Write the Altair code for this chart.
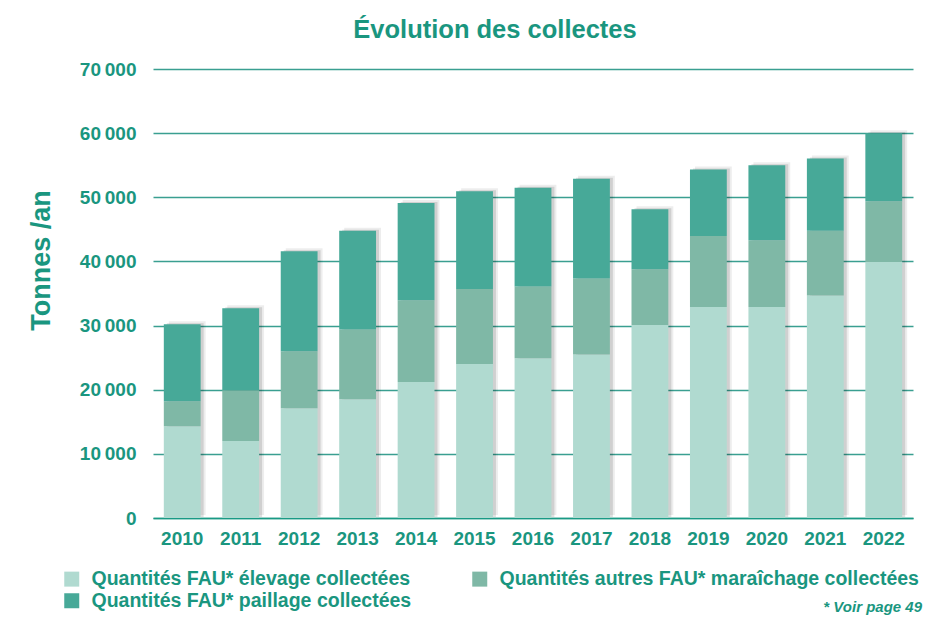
import altair as alt
import pandas as pd

years = ["2010", "2011", "2012", "2013", "2014", "2015", "2016",
         "2017", "2018", "2019", "2020", "2021", "2022"]
elevage = [14300, 12000, 17100, 18500, 21200, 24000, 24900,
           25500, 30100, 32900, 32900, 34700, 39900]
maraichage = [3900, 7900, 8900, 10900, 12750, 11700, 11200,
              11850, 8700, 11050, 10400, 10100, 9500]
paillage = [12000, 12800, 15600, 15400, 15150, 15250, 15400,
            15550, 9350, 10400, 11700, 11250, 10600]

series_names = [
    "Quantités FAU* élevage collectées",
    "Quantités autres FAU* maraîchage collectées",
    "Quantités FAU* paillage collectées",
]
series_colors = ["#b0dad0", "#7fb8a6", "#47a998"]
y_ticks = [0, 10000, 20000, 30000, 40000, 50000, 60000, 70000]
title_text = "Évolution des collectes"
note_text = "* Voir page 49"

TEAL = "#1a967f"
FONT = "Liberation Sans"

rows = []
for i, y in enumerate(years):
    for k, vals in enumerate([elevage, maraichage, paillage]):
        rows.append({"annee": y, "serie": series_names[k], "ordre": k, "valeur": vals[i]})
df = pd.DataFrame(rows)
totals = pd.DataFrame({"annee": years,
                       "total": [a + b + c for a, b, c in zip(elevage, maraichage, paillage)]})

xscale = alt.Scale(domain=years, paddingInner=0.37, paddingOuter=0.185)
yscale = alt.Scale(domain=[0, 70000])

x_axis = alt.Axis(
    title=None, labelAngle=0, labelFont=FONT, labelFontSize=19, labelFontWeight="bold",
    labelColor=TEAL, labelPadding=11, ticks=False, domain=True, domainColor="#1a9a85",
    domainWidth=1.5, grid=False,
)
y_axis = alt.Axis(
    title="Tonnes /an", values=y_ticks, labelFont=FONT, labelFontSize=19,
    labelFontWeight="bold", labelColor=TEAL, labelPadding=17, ticks=False, domain=False,
    grid=True, gridColor="#3a9f91", gridWidth=1.3,
    labelExpr="replace(format(datum.value, ','), ',', '\u2009')",
    titleFont=FONT, titleFontSize=27, titleFontWeight="bold", titleColor=TEAL,
    titleX=-112, titleY=191, titleAlign="center", titleBaseline="middle", titleAngle=270,
)

shadow1 = alt.Chart(totals).mark_bar(color="#000000", opacity=0.07, xOffset=5, yOffset=-3).encode(
    x=alt.X("annee:N", scale=xscale, axis=x_axis, sort=years),
    y=alt.Y("total:Q", scale=yscale, axis=y_axis),
)
shadow2 = alt.Chart(totals).mark_bar(color="#000000", opacity=0.12, xOffset=3, yOffset=-1).encode(
    x=alt.X("annee:N", scale=xscale, sort=years),
    y=alt.Y("total:Q", scale=yscale),
)

bars = alt.Chart(df).mark_bar().encode(
    x=alt.X("annee:N", scale=xscale, sort=years),
    y=alt.Y("valeur:Q", scale=yscale, stack="zero"),
    color=alt.Color(
        "serie:N",
        scale=alt.Scale(domain=series_names, range=series_colors),
        legend=alt.Legend(
            title=None, orient="none", legendX=-91, legendY=500, direction="horizontal",
            columns=2, columnPadding=58, rowPadding=1, symbolType="square",
            symbolSize=225, symbolStrokeWidth=0, symbolOpacity=1, labelFont=FONT,
            labelFontSize=19.5, labelFontWeight="bold", labelColor=TEAL, labelOffset=10,
            labelLimit=0,
        ),
    ),
    order=alt.Order("ordre:Q", sort="ascending"),
)

note = alt.Chart(pd.DataFrame({"t": [note_text]})).mark_text(
    align="right", baseline="alphabetic", font=FONT, fontSize=15, fontWeight="bold",
    fontStyle="italic", color=TEAL,
).encode(text="t:N", x=alt.value(769), y=alt.value(543))

title = alt.Chart(pd.DataFrame({"t": [title_text]})).mark_text(
    align="center", baseline="alphabetic", font=FONT, fontSize=25.5, fontWeight="bold",
    color=TEAL,
).encode(text="t:N", x=alt.value(342), y=alt.value(-31))

chart = alt.layer(shadow1, shadow2, bars, note, title).properties(
    width=760, height=449,
    autosize=alt.AutoSizeParams(type="none"),
    padding={"left": 145, "top": 61, "right": 21, "bottom": 100},
    background="#ffffff",
).configure_view(stroke=None)

chart.save("out.html", embed_options={"renderer": "svg", "actions": False})
